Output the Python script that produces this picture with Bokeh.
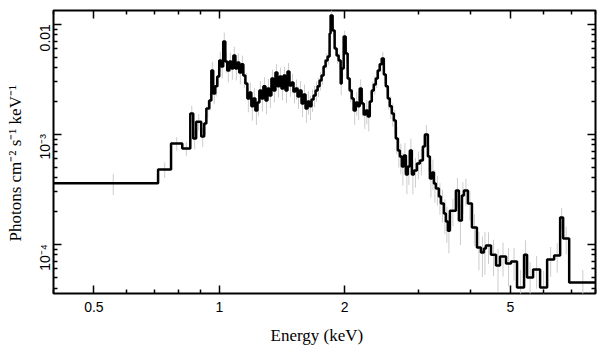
import math
from bokeh.plotting import figure
from bokeh.models import (LogAxis, FixedTicker, CustomJSTickFormatter, ColumnDataSource, Title)
from bokeh.embed import file_html
from bokeh.resources import INLINE

# Bin edges (keV) and flux (photons cm^-2 s^-1 keV^-1)
edges = [
    0.400, 0.713, 0.766, 0.815, 0.852, 0.866, 0.880, 0.905, 0.920, 0.931, 0.946, 0.957, 0.967, 0.978, 0.989, 1.000,
    1.011, 1.022, 1.034, 1.045, 1.057, 1.069, 1.081, 1.093, 1.105, 1.117, 1.130, 1.142, 1.155, 1.168, 1.181,
    1.194, 1.207, 1.221, 1.235, 1.248, 1.262, 1.276, 1.291, 1.305, 1.319, 1.334, 1.349, 1.364, 1.379, 1.395,
    1.410, 1.426, 1.442, 1.458, 1.474, 1.491, 1.507, 1.524, 1.541, 1.558, 1.576, 1.593, 1.611, 1.629, 1.647,
    1.665, 1.684, 1.703, 1.722, 1.741, 1.760, 1.780, 1.800, 1.820, 1.840,
    1.850, 1.871, 1.892, 1.913, 1.934, 1.956,
    1.967, 1.989, 2.011, 2.033, 2.056, 2.079, 2.102, 2.126, 2.149, 2.173, 2.197, 2.222, 2.247, 2.272, 2.297,
    2.323, 2.349, 2.375, 2.401, 2.428, 2.455, 2.483, 2.510, 2.538, 2.566, 2.595, 2.624, 2.653, 2.683, 2.713,
    2.743, 2.774, 2.805, 2.836, 2.867, 2.899, 2.932,
    2.981, 3.031, 3.081, 3.116, 3.168, 3.203, 3.239, 3.275, 3.311, 3.367, 3.404, 3.461, 3.499, 3.538, 3.578,
    3.698, 3.760, 3.823, 3.866, 3.952, 4.041, 4.154, 4.247, 4.318, 4.366, 4.490, 4.616, 4.719, 4.879, 5.016,
    5.185, 5.390, 5.481, 5.666, 5.890, 6.123, 6.365, 6.580, 6.690, 6.917, 8.000,
]

flux = [
    3.58e-4, 4.78e-4, 8.23e-4, 7.41e-4, 1.54e-3, 9.14e-4, 1.30e-3, 9.53e-4, 1.25e-3, 1.71e-3, 2.02e-3, 3.79e-3, 2.34e-3, 2.72e-3, 3.35e-3,
    4.68e-3, 4.12e-3, 6.97e-3, 4.58e-3, 3.79e-3, 4.58e-3, 3.95e-3, 5.19e-3, 3.95e-3, 4.49e-3, 3.64e-3, 4.31e-3, 3.42e-3, 2.89e-3, 2.11e-3,
    2.39e-3, 1.79e-3, 2.11e-3, 1.64e-3, 1.94e-3, 2.49e-3, 2.11e-3, 2.72e-3, 2.02e-3, 2.60e-3, 2.25e-3, 3.21e-3, 2.49e-3, 3.64e-3, 2.72e-3,
    3.35e-3, 2.60e-3, 3.42e-3, 2.49e-3, 3.72e-3, 2.77e-3, 2.95e-3, 2.44e-3, 2.60e-3, 2.20e-3, 2.49e-3, 1.90e-3, 2.30e-3, 1.71e-3, 1.98e-3,
    1.79e-3, 2.07e-3, 2.25e-3, 2.49e-3, 2.72e-3, 3.08e-3, 3.42e-3, 4.12e-3, 4.68e-3, 5.08e-3, 8.23e-3, 1.20e-2, 8.77e-3, 6.01e-3, 5.19e-3,
    4.68e-3, 2.89e-3, 3.95e-3, 7.73e-3, 5.42e-3, 3.21e-3, 2.49e-3, 2.11e-3, 1.64e-3, 1.94e-3, 1.79e-3, 2.60e-3, 1.90e-3, 1.51e-3, 1.64e-3,
    1.45e-3, 1.98e-3, 2.49e-3, 2.83e-3, 3.21e-3, 3.79e-3, 4.31e-3, 4.88e-3, 3.49e-3, 2.72e-3, 2.11e-3, 1.79e-3, 1.54e-3, 1.33e-3, 9.14e-4,
    7.11e-4, 6.27e-4, 5.08e-4, 6.40e-4, 4.31e-4, 5.08e-4, 7.11e-4, 4.31e-4, 4.68e-4, 5.42e-4, 5.77e-4, 7.73e-4, 9.94e-4, 6.27e-4, 3.96e-4,
    4.49e-4, 3.56e-4, 3.21e-4, 2.72e-4, 2.35e-4, 1.90e-4, 1.61e-4, 1.33e-4, 2.02e-4, 3.08e-4, 1.64e-4, 2.77e-4, 3.08e-4, 2.35e-4, 1.42e-4,
    9.33e-5, 8.40e-5, 9.14e-5, 9.73e-5, 8.05e-5, 6.40e-5, 7.73e-5, 6.68e-5, 6.97e-5, 4.04e-5, 8.05e-5, 4.98e-5, 5.89e-5, 4.04e-5, 7.26e-5,
    7.89e-5, 1.75e-4, 1.127e-4, 4.49e-5,
]

# Relative 1-sigma errors of each bin
rel_err = [
    0.22, 0.16, 0.14, 0.14, 0.18, 0.20, 0.17, 0.20, 0.20, 0.18, 0.19, 0.20, 0.20, 0.19, 0.20,
    0.20, 0.22, 0.20, 0.21, 0.22, 0.20, 0.21, 0.20, 0.22, 0.21, 0.22, 0.20, 0.23, 0.24, 0.25,
    0.23, 0.26, 0.24, 0.26, 0.25, 0.22, 0.24, 0.21, 0.25, 0.22, 0.23, 0.20, 0.22, 0.19, 0.21,
    0.20, 0.22, 0.20, 0.23, 0.19, 0.21, 0.20, 0.22, 0.21, 0.23, 0.22, 0.25, 0.23, 0.26, 0.24,
    0.25, 0.23, 0.22, 0.21, 0.20, 0.19, 0.18, 0.17, 0.16, 0.16, 0.13, 0.11, 0.13, 0.15, 0.16,
    0.17, 0.22, 0.18, 0.13, 0.16, 0.20, 0.22, 0.23, 0.26, 0.24, 0.25, 0.21, 0.24, 0.26, 0.25,
    0.27, 0.23, 0.20, 0.19, 0.18, 0.16, 0.15, 0.14, 0.17, 0.19, 0.21, 0.23, 0.24, 0.25, 0.28,
    0.30, 0.31, 0.33, 0.30, 0.34, 0.32, 0.28, 0.34, 0.30, 0.28, 0.27, 0.24, 0.22, 0.27, 0.33,
    0.31, 0.33, 0.30, 0.32, 0.33, 0.35, 0.36, 0.38, 0.28, 0.30, 0.40, 0.32, 0.28, 0.30, 0.32,
    0.38, 0.40, 0.42, 0.32, 0.36, 0.42, 0.34, 0.38, 0.33, 0.45, 0.35, 0.38, 0.33, 0.42, 0.30,
    0.30, 0.22, 0.28, 0.30,
]

x_major = [0.5, 1, 2, 5]
x_minor = [0.4, 0.6, 0.7, 0.8, 0.9, 3, 4, 6, 7, 8]
y_major = [1e-4, 1e-3, 1e-2]
y_minor = [m * 10.0 ** k for k in (-5, -4, -3, -2) for m in range(2, 10)]

x_title = "Energy (keV)"
y_title = "Photons cm\u207b\u00b2 s\u207b\u00b9 keV\u207b\u00b9"

centers = [(a + b) / 2 for a, b in zip(edges[:-1], edges[1:])]
err_src = ColumnDataSource(dict(
    x=centers,
    y0=[f * (1 - r) for f, r in zip(flux, rel_err)],
    y1=[f * (1 + r) for f, r in zip(flux, rel_err)],
))

p = figure(x_axis_type="log", y_axis_type="log",
           x_range=(0.4, 8.0), y_range=(3.57e-5, 0.0133),
           frame_width=542, frame_height=283,
           min_border_left=53, min_border_right=4, min_border_top=10, min_border_bottom=10,
           output_backend="svg", toolbar_location=None,
           background_fill_color="white", border_fill_color="white")

p.xgrid.grid_line_color = None
p.ygrid.grid_line_color = None
p.outline_line_color = "black"
p.outline_line_width = 2

p.segment(x0="x", y0="y0", x1="x", y1="y1", source=err_src,
          line_color="#cccccc", line_width=1)
p.step(x=edges, y=flux + [flux[-1]], mode="after", line_color="black", line_width=2.5)

xt = FixedTicker(ticks=x_major, minor_ticks=x_minor)
yt = FixedTicker(ticks=y_major, minor_ticks=y_minor)

xfmt = CustomJSTickFormatter(code="return String(+tick.toPrecision(3));")
yfmt = CustomJSTickFormatter(code="""
const e = Math.round(Math.log10(tick));
if (e === -2) { return '0.01'; }
const sup = {'-3': '\u207b\u00b3', '-4': '\u207b\u2074', '-5': '\u207b\u2075'};
return '10' + sup[String(e)];
""")
blank = CustomJSTickFormatter(code="return '';")


def style(ax):
    ax.axis_line_color = None
    ax.major_tick_in = 8
    ax.major_tick_out = 0
    ax.minor_tick_in = 4
    ax.minor_tick_out = 0
    ax.major_tick_line_color = "black"
    ax.minor_tick_line_color = "black"
    ax.major_tick_line_width = 1.5
    ax.minor_tick_line_width = 1.5


xa = p.xaxis[0]
xa.ticker = xt
xa.formatter = xfmt
style(xa)
xa.major_label_text_font = "Liberation Sans"
xa.major_label_text_font_size = "14px"
xa.major_label_text_color = "black"
xa.major_label_standoff = 8

ya = p.yaxis[0]
ya.ticker = yt
ya.formatter = yfmt
style(ya)
ya.major_label_orientation = math.pi / 2
ya.major_label_text_font = "Liberation Sans"
ya.major_label_text_font_size = "14px"
ya.major_label_text_color = "black"
ya.major_label_standoff = 8

top = LogAxis(ticker=FixedTicker(ticks=x_major, minor_ticks=x_minor), formatter=blank)
style(top)
top.major_label_standoff = 0
top.major_label_text_font_size = "1px"
p.add_layout(top, "above")

right = LogAxis(ticker=FixedTicker(ticks=y_major, minor_ticks=y_minor), formatter=blank)
style(right)
right.major_label_standoff = 0
right.major_label_text_font_size = "1px"
p.add_layout(right, "right")

xtitle = Title(text=x_title, align="left", offset=217, standoff=19,
               text_font="Liberation Serif", text_font_style="normal",
               text_font_size="17px", text_color="black")
p.add_layout(xtitle, "below")

ytitle = Title(text=y_title, align="left", offset=52, standoff=4,
               text_font="Liberation Serif", text_font_style="normal",
               text_font_size="17px", text_color="black")
p.add_layout(ytitle, "left")

open("out.html", "w").write(file_html(p, INLINE))
